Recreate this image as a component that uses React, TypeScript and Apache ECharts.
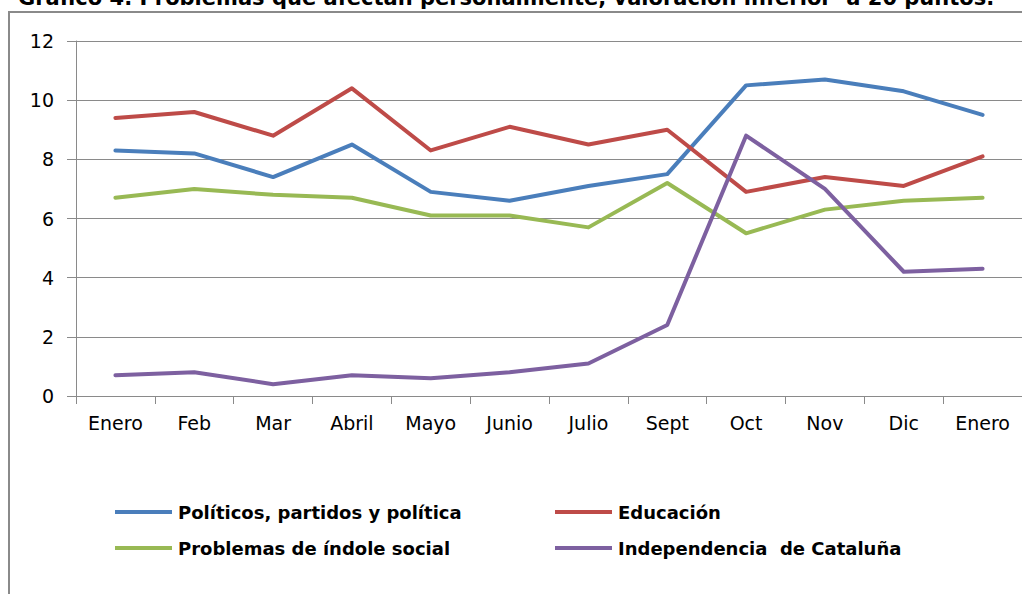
import React, { useEffect, useRef } from "react";
import * as echarts from "echarts";

const categories = ["Enero", "Feb", "Mar", "Abril", "Mayo", "Junio", "Julio", "Sept", "Oct", "Nov", "Dic", "Enero"];
const politicos = [8.3, 8.2, 7.4, 8.5, 6.9, 6.6, 7.1, 7.5, 10.5, 10.7, 10.3, 9.5];
const educacion = [9.4, 9.6, 8.8, 10.4, 8.3, 9.1, 8.5, 9.0, 6.9, 7.4, 7.1, 8.1];
const social = [6.7, 7.0, 6.8, 6.7, 6.1, 6.1, 5.7, 7.2, 5.5, 6.3, 6.6, 6.7];
const independencia = [0.7, 0.8, 0.4, 0.7, 0.6, 0.8, 1.1, 2.4, 8.8, 7.0, 4.2, 4.3];
const seriesNames = [
  "Políticos, partidos y política",
  "Educación",
  "Problemas de índole social",
  "Independencia  de Cataluña",
];
const colors = ["#4a7ebb", "#be4b48", "#98b954", "#7d60a0"];
const title = "Gráfico 4. Problemas que afectan personalmente, valoración inferior  a 20 puntos.";

export default function App() {
  const ref = useRef<HTMLDivElement>(null);
  useEffect(() => {
    if (!ref.current) return;
    const chart = echarts.init(ref.current, null, { renderer: "svg" });
    const font = "'DejaVu Sans', 'Open Sans', sans-serif";
    const legendPos = [
      { left: 115, top: 503 },
      { left: 555, top: 503 },
      { left: 115, top: 539 },
      { left: 555, top: 539 },
    ];
    const datas = [politicos, educacion, social, independencia];
    chart.setOption({
      animation: false,
      backgroundColor: "#ffffff",
      graphic: [
        {
          type: "rect",
          shape: { x: 9, y: 12, width: 1200, height: 800 },
          style: { fill: "none", stroke: "#8a8a8a", lineWidth: 2 },
          silent: true,
        },
        {
          type: "text",
          left: 18,
          top: -13,
          style: {
            text: title,
            fill: "#000",
            font: "bold 21px 'DejaVu Sans', 'Open Sans', sans-serif",
          },
        },
      ],
      legend: legendPos.map((p, i) => ({
        data: [seriesNames[i]],
        left: p.left,
        top: p.top,
        padding: 0,
        icon: "rect",
        itemWidth: 57,
        itemHeight: 4,
        itemGap: 0,
        textStyle: {
          fontFamily: font,
          fontWeight: "bold",
          fontSize: 18,
          color: "#000",
          padding: [0, 0, 0, 1],
        },
        selectedMode: false,
      })),
      grid: { left: 76, top: 41, right: 0, bottom: 198, containLabel: false },
      xAxis: {
        type: "category",
        data: categories,
        boundaryGap: true,
        axisLine: { lineStyle: { color: "#8a8a8a", width: 1 } },
        axisTick: { show: true, length: 8, lineStyle: { color: "#8a8a8a" } },
        axisLabel: {
          interval: 0,
          margin: 17,
          fontFamily: font,
          fontSize: 19,
          color: "#000",
        },
      },
      yAxis: {
        type: "value",
        min: 0,
        max: 12,
        interval: 2,
        axisLine: { show: true, lineStyle: { color: "#8a8a8a", width: 1 } },
        axisTick: { show: true, length: 9, lineStyle: { color: "#8a8a8a" } },
        splitLine: { show: true, lineStyle: { color: "#8a8a8a", width: 1 } },
        axisLabel: {
          margin: 22,
          fontFamily: font,
          fontSize: 19,
          color: "#000",
        },
      },
      series: datas.map((d, i) => ({
        name: seriesNames[i],
        type: "line",
        data: d,
        symbol: "none",
        color: colors[i],
        lineStyle: { width: 4, color: colors[i], cap: "round", join: "round" },
      })),
    });
    return () => chart.dispose();
  }, []);
  return (
    <div
      ref={ref}
      style={{ position: "absolute", left: 0, top: 0, width: 1022, height: 594 }}
    />
  );
}
